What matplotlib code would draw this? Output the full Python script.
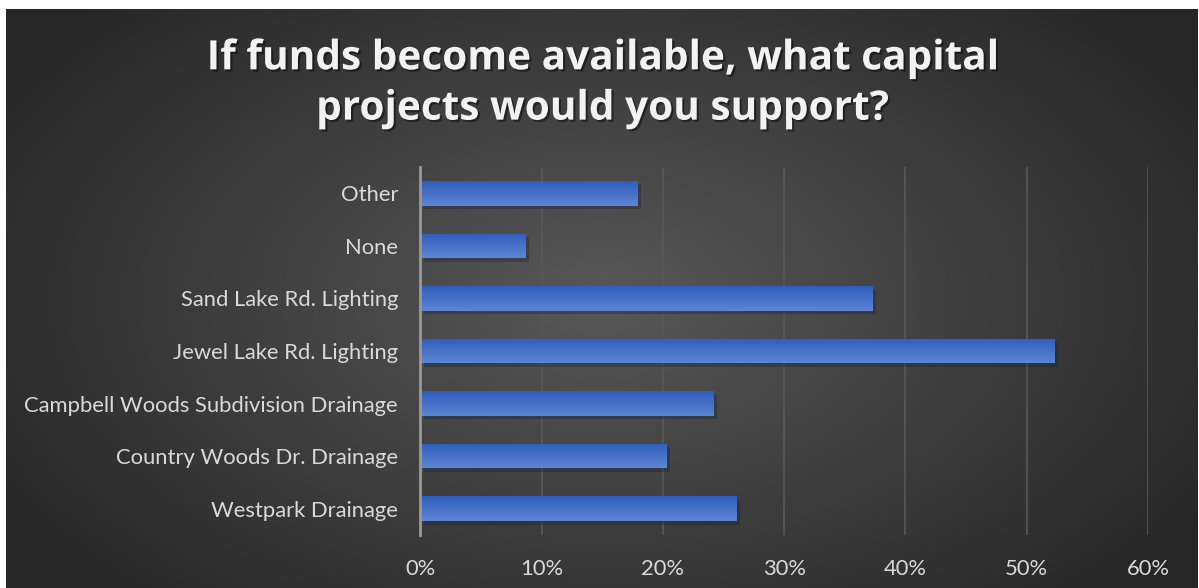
import numpy as np
import matplotlib
matplotlib.use("Agg")
from matplotlib import pyplot as plt
import matplotlib.patheffects as pe
from matplotlib.ticker import PercentFormatter

categories = ["Westpark Drainage", "Country Woods Dr. Drainage",
              "Campbell Woods Subdivision Drainage", "Jewel Lake Rd. Lighting",
              "Sand Lake Rd. Lighting", "None", "Other"]
shares = [0.261, 0.203, 0.242, 0.523, 0.373, 0.087, 0.179]
xticks = [0, 0.1, 0.2, 0.3, 0.4, 0.5, 0.6]
title = "If funds become available, what capital\nprojects would you support?"

W, H = 1199, 588
fig = plt.figure(figsize=(W / 100, H / 100), dpi=100, facecolor="white")

# dark panel with radial gradient
bg = fig.add_axes([6 / W, 0, 1 - 7 / W, 1 - 9 / H])
bg.set_axis_off()
yy, xx = np.mgrid[0:1:300j, 0:1:600j]
r = np.sqrt(((xx - 0.5) / 0.62) ** 2 + ((yy - 0.5) / 0.75) ** 2)
shade = np.clip(0.345 - 0.2 * r, 0.15, 0.35)
bg.imshow(np.dstack([shade] * 3), aspect="auto", extent=[0, 1, 0, 1],
          interpolation="bilinear")
bg.set_xlim(0, 1)
bg.set_ylim(0, 1)

fig.text(602 / W, 1 - 84 / H, title, ha="center", va="center",
         fontsize=29.2, fontweight="bold", family="Open Sans", color="#f2f2f2",
         linespacing=1.3,
         path_effects=[pe.withSimplePatchShadow(offset=(1.5, -1.5),
                                                shadow_rgbFace="black", alpha=0.45)])

left, right = 420.3, 1148
ax = fig.add_axes([left / W, (H - 535) / H, (right - left) / W, (535 - 167) / H])
ax.patch.set_alpha(0)
y = np.arange(len(categories))
bars = ax.barh(y, shares, height=0.47, color="#4472C4", zorder=3,
               path_effects=[pe.SimplePatchShadow(offset=(2.5, -2.5), alpha=0.35),
                             pe.Normal()])

# vertical gradient inside each bar
grad = np.linspace(0, 1, 64).reshape(-1, 1)
top = np.array([0.37, 0.52, 0.83])
bot = np.array([0.18, 0.37, 0.74])
img = top * (1 - grad[..., None]) + bot * grad[..., None]
img = np.repeat(img, 2, axis=1)
for b in bars:
    x0, y0 = b.get_x(), b.get_y()
    im = ax.imshow(img, extent=[x0, x0 + b.get_width(), y0 + b.get_height(), y0],
                   aspect="auto", zorder=4, interpolation="bilinear")
    im.set_clip_path(b)

ax.set_xlim(0, 0.6)
ax.set_ylim(-0.5, len(categories) - 0.5)
ax.set_xticks(xticks)
ax.xaxis.set_major_formatter(PercentFormatter(1.0, decimals=0))
ax.set_yticks(y)
ax.set_yticklabels(categories)
ax.grid(axis="x", color="#585858", linewidth=1.2, zorder=0)
ax.set_axisbelow(True)
for s in ["top", "right", "bottom"]:
    ax.spines[s].set_visible(False)
ax.spines["left"].set_color("#9a9a9a")
ax.spines["left"].set_linewidth(2)
ax.spines["left"].set_zorder(5)
ax.tick_params(axis="y", length=0, labelsize=15.8, pad=16)
ax.tick_params(axis="x", length=0, labelsize=15.8, pad=17)
for t in ax.get_xticklabels() + ax.get_yticklabels():
    t.set_family(["Lato", "DejaVu Sans"])
    t.set_color("#d9d9d9")

fig.savefig("out.png", dpi=100, facecolor="white")
